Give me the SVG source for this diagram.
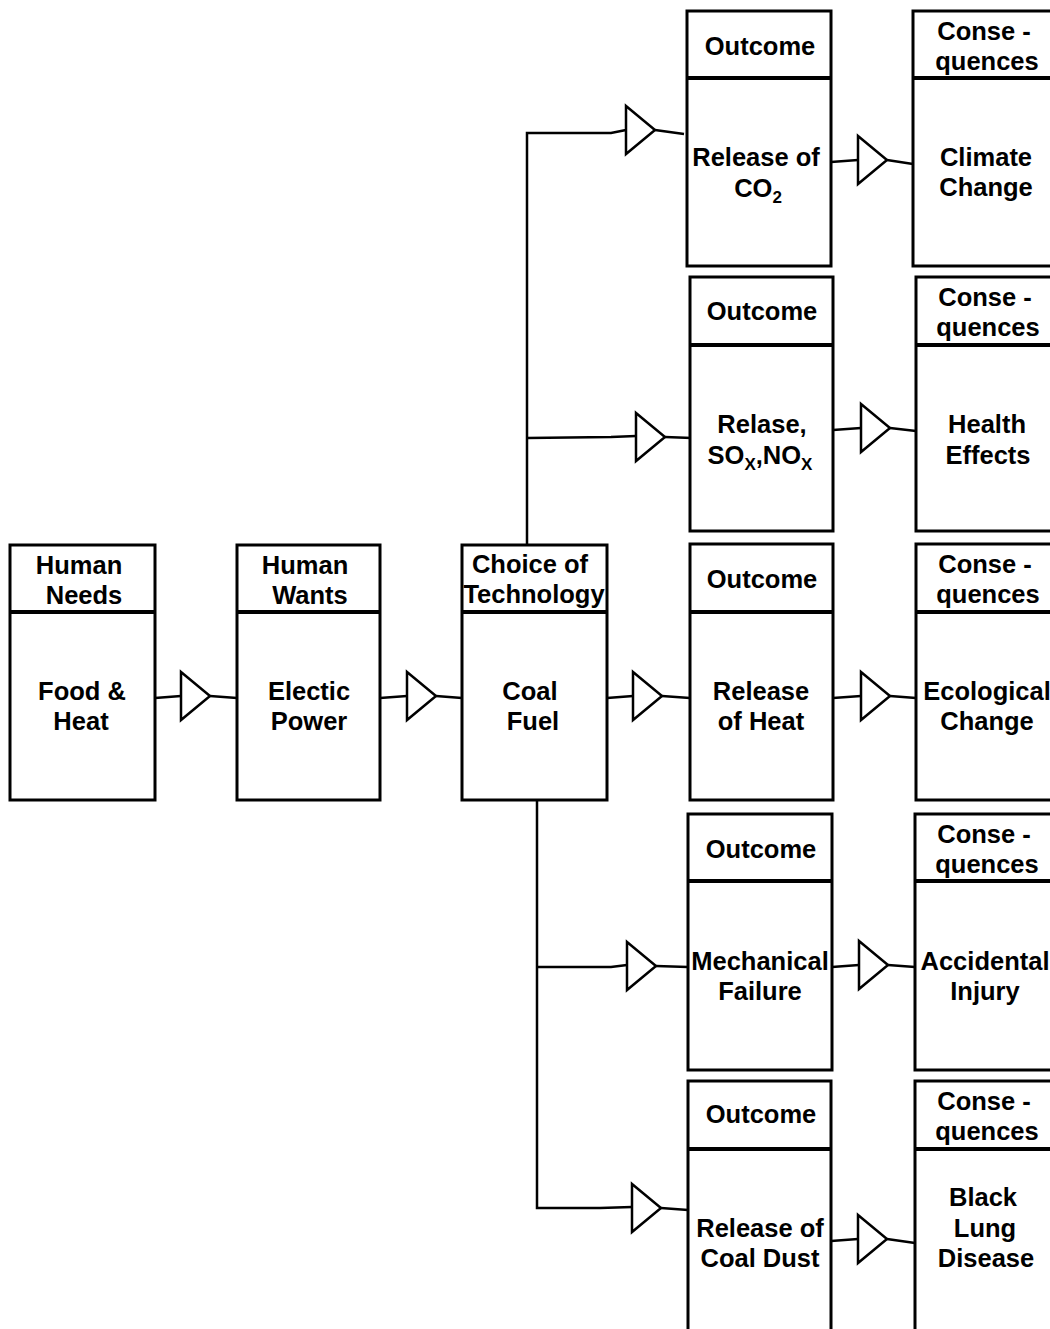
<svg xmlns="http://www.w3.org/2000/svg" width="1050" height="1329" viewBox="0 0 1050 1329">
<style>
.box{fill:#fff;stroke:#000;stroke-width:3}
.div{stroke:#000;stroke-width:4}
.t{font-family:"Liberation Sans",Arial,sans-serif;font-weight:bold;font-size:25.5px;fill:#000;text-anchor:middle}
.sub{font-size:17px}
.ln{fill:none;stroke:#000;stroke-width:2.5;stroke-linejoin:miter}
.tri{fill:#fff;stroke:#000;stroke-width:2.5}
</style>
<defs>
<path id="arr" class="tri" d="M0,-24 L29,0 L0,24 Z"/>
</defs>
<rect width="1050" height="1329" fill="#fff"/>

<g id="connectors">
<!-- main chain -->
<polyline class="ln" points="155,698 181,696"/>
<use href="#arr" x="181" y="696"/>
<polyline class="ln" points="210,696 237,698"/>
<polyline class="ln" points="380,698 407,696"/>
<use href="#arr" x="407" y="696"/>
<polyline class="ln" points="436,696 462,698"/>
<polyline class="ln" points="607,698 633,696"/>
<use href="#arr" x="633" y="696"/>
<polyline class="ln" points="662,696 690,698"/>
<!-- upper branches -->
<polyline class="ln" points="527,545 527,133 611,133 626,130"/>
<use href="#arr" x="626" y="130"/>
<polyline class="ln" points="655,130 684,134"/>
<polyline class="ln" points="527,438 611,437 636,436"/>
<use href="#arr" x="636" y="437"/>
<polyline class="ln" points="665,437 692,438"/>
<!-- lower branches -->
<polyline class="ln" points="537,800 537,1208 600,1208 632,1207"/>
<polyline class="ln" points="537,967 611,967 627,965"/>
<use href="#arr" x="627" y="966"/>
<polyline class="ln" points="656,966 688,967"/>
<use href="#arr" x="632" y="1208"/>
<polyline class="ln" points="661,1208 688,1210"/>
<!-- consequence arrows -->
<polyline class="ln" points="831,162 858,160"/>
<use href="#arr" x="858" y="160"/>
<polyline class="ln" points="887,160 913,164"/>
<polyline class="ln" points="833,430 861,428"/>
<use href="#arr" x="861" y="428"/>
<polyline class="ln" points="890,428 916,431"/>
<polyline class="ln" points="833,698 861,696"/>
<use href="#arr" x="861" y="696"/>
<polyline class="ln" points="890,696 916,698"/>
<polyline class="ln" points="832,967 859,965"/>
<use href="#arr" x="859" y="965"/>
<polyline class="ln" points="888,965 915,967"/>
<polyline class="ln" points="831,1241 858,1239"/>
<use href="#arr" x="858" y="1239"/>
<polyline class="ln" points="887,1239 915,1243"/>
</g>

<g id="human-needs">
<rect class="box" x="10" y="545" width="145" height="255"/>
<line class="div" x1="10" y1="612" x2="155" y2="612"/>
<text class="t" x="79" y="574">Human</text>
<text class="t" x="84" y="604">Needs</text>
<text class="t" x="82" y="700">Food &amp;</text>
<text class="t" x="81" y="730">Heat</text>
</g>

<g id="human-wants">
<rect class="box" x="237" y="545" width="143" height="255"/>
<line class="div" x1="237" y1="612" x2="380" y2="612"/>
<text class="t" x="305" y="574">Human</text>
<text class="t" x="310" y="604">Wants</text>
<text class="t" x="309" y="700">Electic</text>
<text class="t" x="309" y="730">Power</text>
</g>

<g id="choice">
<rect class="box" x="462" y="545" width="145" height="255"/>
<line class="div" x1="462" y1="612" x2="607" y2="612"/>
<text class="t" x="530" y="573">Choice of</text>
<text class="t" x="534" y="603">Technology</text>
<text class="t" x="530" y="700">Coal</text>
<text class="t" x="533" y="730">Fuel</text>
</g>

<g id="outcome-co2">
<rect class="box" x="687" y="11" width="144" height="255"/>
<line class="div" x1="687" y1="78" x2="831" y2="78"/>
<text class="t" x="760" y="55">Outcome</text>
<text class="t" x="756" y="166">Release of</text>
<text class="t" x="758" y="197">CO<tspan class="sub" dy="6">2</tspan></text>
</g>

<g id="conseq-climate">
<rect class="box" x="913" y="11" width="150" height="255"/>
<line class="div" x1="913" y1="78" x2="1063" y2="78"/>
<text class="t" x="984" y="40">Conse -</text>
<text class="t" x="987" y="70">quences</text>
<text class="t" x="986" y="166">Climate</text>
<text class="t" x="986" y="196">Change</text>
</g>

<g id="outcome-sox">
<rect class="box" x="690" y="277" width="143" height="254"/>
<line class="div" x1="690" y1="345" x2="833" y2="345"/>
<text class="t" x="762" y="320">Outcome</text>
<text class="t" x="762" y="433">Relase,</text>
<text class="t" x="760" y="464">SO<tspan class="sub" dy="6">X</tspan><tspan dy="-6">,NO</tspan><tspan class="sub" dy="6">X</tspan></text>
</g>

<g id="conseq-health">
<rect class="box" x="916" y="277" width="150" height="254"/>
<line class="div" x1="916" y1="345" x2="1066" y2="345"/>
<text class="t" x="985" y="306">Conse -</text>
<text class="t" x="988" y="336">quences</text>
<text class="t" x="987" y="433">Health</text>
<text class="t" x="988" y="464">Effects</text>
</g>

<g id="outcome-heat">
<rect class="box" x="690" y="544" width="143" height="256"/>
<line class="div" x1="690" y1="612" x2="833" y2="612"/>
<text class="t" x="762" y="588">Outcome</text>
<text class="t" x="761" y="700">Release</text>
<text class="t" x="761" y="730">of Heat</text>
</g>

<g id="conseq-ecological">
<rect class="box" x="916" y="544" width="150" height="256"/>
<line class="div" x1="916" y1="612" x2="1066" y2="612"/>
<text class="t" x="985" y="573">Conse -</text>
<text class="t" x="988" y="603">quences</text>
<text class="t" x="987" y="700">Ecological</text>
<text class="t" x="987" y="730">Change</text>
</g>

<g id="outcome-mech">
<rect class="box" x="688" y="814" width="144" height="256"/>
<line class="div" x1="688" y1="881" x2="832" y2="881"/>
<text class="t" x="761" y="858">Outcome</text>
<text class="t" x="760" y="970">Mechanical</text>
<text class="t" x="760" y="1000">Failure</text>
</g>

<g id="conseq-injury">
<rect class="box" x="915" y="814" width="150" height="256"/>
<line class="div" x1="915" y1="881" x2="1065" y2="881"/>
<text class="t" x="984" y="843">Conse -</text>
<text class="t" x="987" y="873">quences</text>
<text class="t" x="985" y="970">Accidental</text>
<text class="t" x="985" y="1000">Injury</text>
</g>

<g id="outcome-dust">
<rect class="box" x="688" y="1081" width="143" height="270"/>
<line class="div" x1="688" y1="1149" x2="831" y2="1149"/>
<text class="t" x="761" y="1123">Outcome</text>
<text class="t" x="760" y="1237">Release of</text>
<text class="t" x="760" y="1267">Coal Dust</text>
</g>

<g id="conseq-blacklung">
<rect class="box" x="915" y="1081" width="150" height="270"/>
<line class="div" x1="915" y1="1149" x2="1065" y2="1149"/>
<text class="t" x="984" y="1110">Conse -</text>
<text class="t" x="987" y="1140">quences</text>
<text class="t" x="983" y="1206">Black</text>
<text class="t" x="985" y="1237">Lung</text>
<text class="t" x="986" y="1267">Disease</text>
</g>
</svg>
